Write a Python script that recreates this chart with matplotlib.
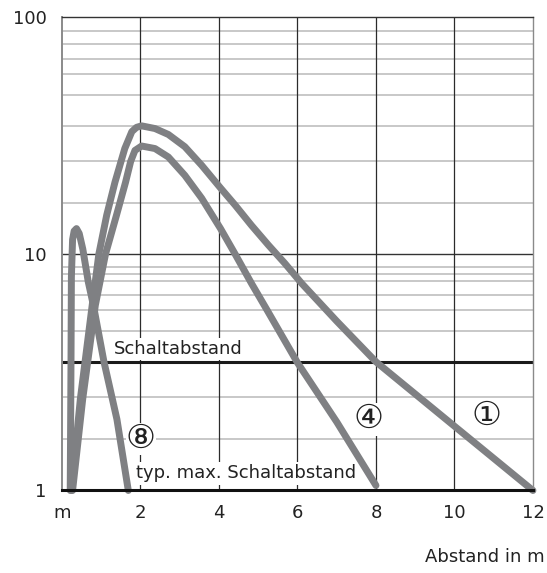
import numpy as np
import matplotlib.pyplot as plt

# curve data (distance in m, signal level)
c1_x = [0.24, 0.47, 0.77, 0.94, 1.14, 1.35, 1.6, 1.78, 1.9, 2.03, 2.37, 2.71, 3.13, 3.56, 4.04,
        4.41, 4.83, 5.26, 5.68, 6.11, 7.0, 8.0, 10.0, 12.0]
c1_y = [1.0, 2.45, 6.07, 10.0, 14.6, 20.1, 27.9, 32.9, 34.3, 34.8, 33.9, 32.0, 28.4, 23.7, 19.0,
        16.1, 13.2, 10.9, 9.12, 7.5, 5.2, 3.5, 1.87, 1.0]

c4_x = [0.27, 0.53, 0.85, 1.11, 1.39, 1.62, 1.75, 1.86, 2.03, 2.37, 2.71, 3.13, 3.56, 4.04,
        4.41, 4.83, 5.21, 6.0, 7.0, 8.0]
c4_y = [1.0, 2.45, 6.07, 10.0, 14.6, 20.1, 24.6, 27.4, 28.6, 27.9, 25.7, 21.5, 17.2, 12.8,
        10.0, 7.5, 5.85, 3.47, 1.95, 1.05]

c8_x = [0.21, 0.23, 0.24, 0.27, 0.31, 0.37, 0.44, 0.53, 0.67, 0.8, 1.07, 1.4, 1.69]
c8_y = [1.0, 3.5, 8.0, 11.5, 12.5, 12.8, 12.2, 10.5, 7.62, 6.07, 3.5, 2.0, 1.0]

x_ticks = [0, 2, 4, 6, 8, 10, 12]
x_labels = ["m", "2", "4", "6", "8", "10", "12"]
y_ticks = [1, 10, 100]
y_labels = ["1", "10", "100"]

# the horizontal grid of the original is not a plain log grid
grid_lower = [1.65, 2.48, 4.73, 5.8, 6.7, 7.7, 8.22, 8.77]
grid_upper = [16.4, 24.8, 34.6, 47.0, 57.8, 66.8, 77.0, 87.5]
schaltabstand = 3.5

curve_col = "#7f8083"

fig = plt.figure(figsize=(5.47, 5.73), dpi=100)
ax = fig.add_axes([0.1133, 0.144, 0.861, 0.8256])
ax.set_yscale("log")
ax.set_xlim(0, 12)
ax.set_ylim(1, 100)

for v in grid_lower + grid_upper:
    ax.axhline(v, color="#c4c4c4", lw=1.3, zorder=1)
ax.axhline(10, color="#333333", lw=1.0, zorder=1.5)
for xv in [2, 4, 6, 8, 10]:
    ax.axvline(xv, color="#2b2b2b", lw=0.9, zorder=1.5)
ax.axhline(schaltabstand, color="#1a1a1a", lw=2.2, zorder=2)

for xs, ys in [(c1_x, c1_y), (c4_x, c4_y), (c8_x, c8_y)]:
    ax.plot(xs, ys, color=curve_col, lw=5.0, solid_capstyle="round",
            solid_joinstyle="round", zorder=3, clip_on=False)

ax.minorticks_off()
ax.set_xticks(x_ticks)
ax.set_xticklabels(x_labels)
ax.set_yticks(y_ticks)
ax.set_yticklabels(y_labels)
ax.tick_params(length=0, labelsize=13, colors="#222222")
ax.tick_params(axis="x", pad=10)
ax.tick_params(axis="y", pad=11)

ax.spines["left"].set_color("#8a8a8a")
ax.spines["left"].set_linewidth(1.4)
ax.spines["right"].set_color("#8a8a8a")
ax.spines["right"].set_linewidth(1.0)
ax.spines["top"].set_color("#333333")
ax.spines["top"].set_linewidth(1.0)
ax.spines["bottom"].set_color("#111111")
ax.spines["bottom"].set_linewidth(2.2)
for s in ax.spines.values():
    s.set_zorder(4)

box = dict(facecolor="white", edgecolor="none", pad=1.5)
ax.text(1.32, 3.96, "Schaltabstand", fontsize=13, color="#222222",
        ha="left", va="center", bbox=box, zorder=2.5)
ax.text(1.88, 1.18, "typ. max. Schaltabstand", fontsize=13, color="#222222",
        ha="left", va="center", bbox=box, zorder=2.5)

circ_font = ["DejaVu Serif", "DejaVu Sans"]
circ_box = dict(facecolor="white", edgecolor="none", pad=0.3)
ax.text(2.01, 1.65, "⑧", fontsize=24, family=circ_font, ha="center", va="center",
        color="#222222", bbox=circ_box, zorder=2.5)
ax.text(7.8, 2.0, "④", fontsize=24, family=circ_font, ha="center", va="center",
        color="#222222", bbox=circ_box, zorder=2.5)
ax.text(10.82, 2.07, "①", fontsize=24, family=circ_font, ha="center", va="center",
        color="#222222", bbox=circ_box, zorder=2.5)

fig.text(0.995, 0.028, "Abstand in m", fontsize=13, color="#222222", ha="right", va="center")

fig.savefig("out.png", dpi=100)
